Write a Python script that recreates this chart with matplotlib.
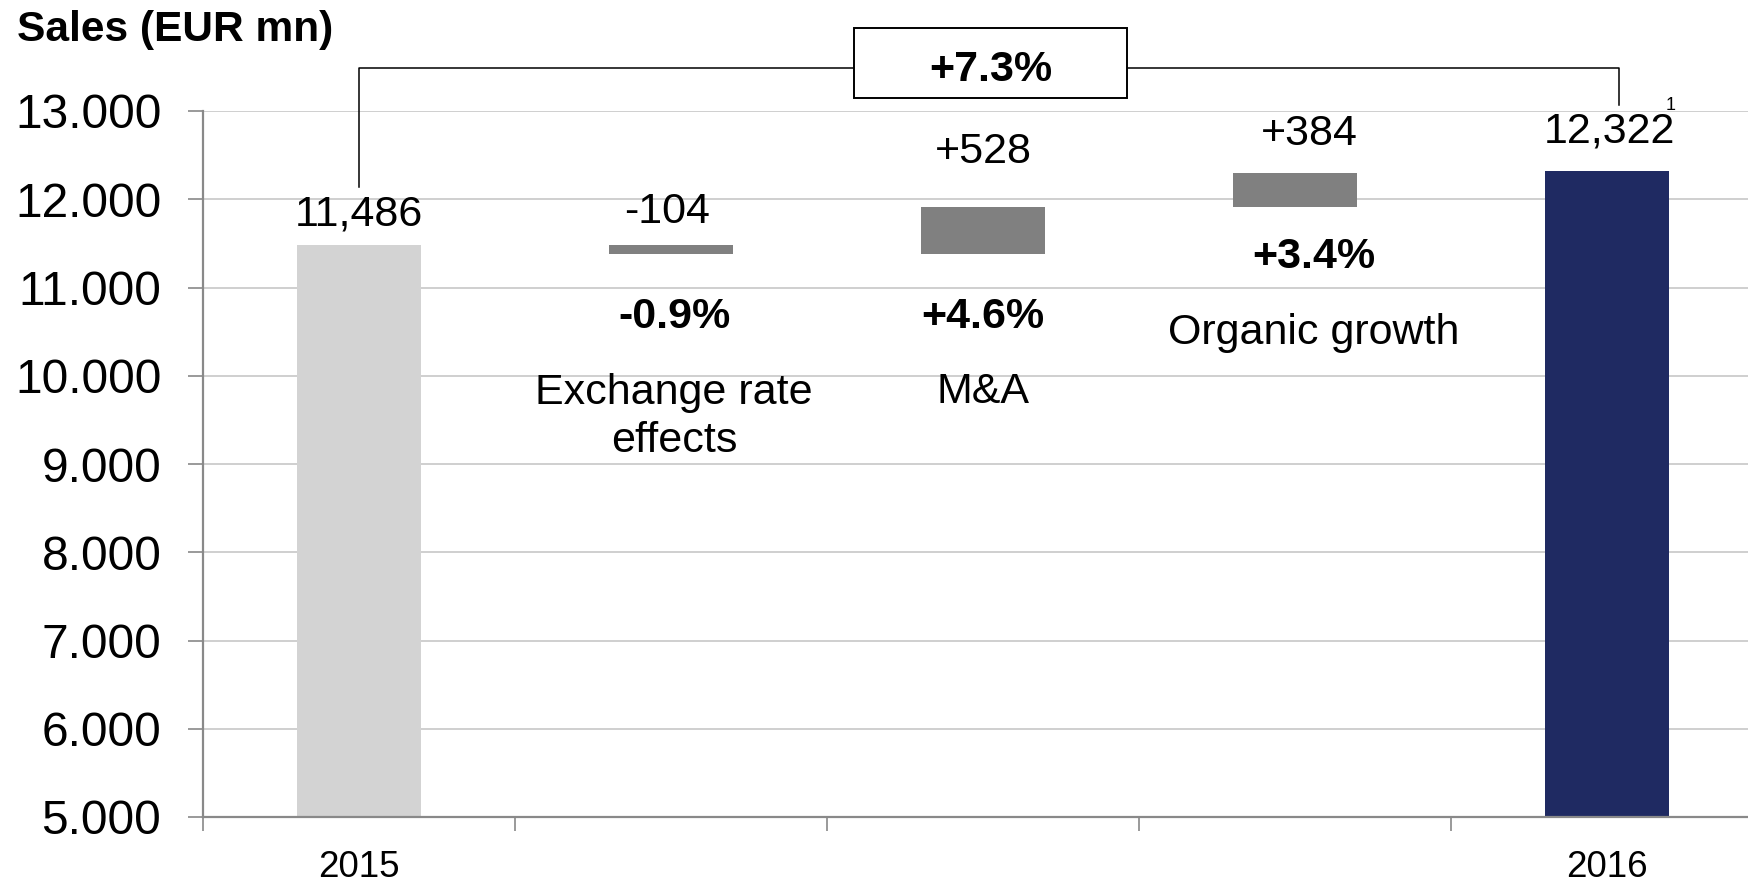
import matplotlib
matplotlib.use("Agg")
import matplotlib.pyplot as plt
from matplotlib.patches import Rectangle

plt.rcParams['font.family'] = ['Liberation Sans', 'DejaVu Sans']

# sales bridge 2015 -> 2016, EUR mn
start_label = "2015"
end_label = "2016"
start_value = 11486
end_value = 12322
step_names = ["Exchange rate\neffects", "M&A", "Organic growth"]
step_values = [-104, 528, 384]
step_pcts = ["-0.9%", "+4.6%", "+3.4%"]
total_pct = "+7.3%"
y_ticks = [5000, 6000, 7000, 8000, 9000, 10000, 11000, 12000, 13000]

light = "#d3d3d3"
mid = "#808080"
navy = "#1f2a62"
fs = 31

fig = plt.figure(figsize=(17.49, 8.86), dpi=100)
ax = fig.add_axes([203 / 1749, 69 / 886, 1560 / 1749, 706 / 886])

n = len(step_values) + 2
width = 0.40

# opening and closing totals
ax.bar(0, start_value - 5000, bottom=5000, width=width, color=light, zorder=2)
ax.bar(n - 1, end_value - 5000, bottom=5000, width=width, color=navy, zorder=2)

# floating steps
level = start_value
tops, bottoms = [], []
for i, v in enumerate(step_values):
    lo, hi = min(level, level + v), max(level, level + v)
    ax.bar(i + 1, hi - lo, bottom=lo, width=width, color=mid, zorder=2)
    tops.append(hi)
    bottoms.append(lo)
    level += v

# value labels above bars
def value_label(x, top, text, dy, dx=0):
    ax.annotate(text, xy=(x, top), xytext=(dx, dy), textcoords="offset points",
                ha="center", va="center", fontsize=fs, annotation_clip=False)

value_label(0, start_value, f"{start_value:,}", 22)
step_dy = [23.5, 40, 28.5]
step_dx = [-3, 0, 10]
for i, v in enumerate(step_values):
    top = start_value if i == 0 else tops[i]
    value_label(i + 1, top, f"{v:+d}", step_dy[i], step_dx[i])
value_label(n - 1, end_value, f"{end_value:,}", 28.5, 2)
ax.annotate("1", xy=(n - 1, end_value), xytext=(46, 47), textcoords="offset points",
            ha="center", va="center", fontsize=13, annotation_clip=False)

# percentage and name of each step
pct_y = [10670, 10670, 11345]
name_y = [9530, 9815, 10490]
name_dx = [0.01, 0.0, 0.06]
for i in range(len(step_values)):
    ax.text(i + 1 + name_dx[i], pct_y[i], step_pcts[i], ha="center", va="center",
            fontsize=fs, fontweight="bold")
    ax.text(i + 1 + name_dx[i], name_y[i], step_names[i], ha="center", va="center",
            fontsize=fs, linespacing=1.27)

# total growth bracket
bracket_y = 13487
ax.plot([0, 0, 1.587], [12139, bracket_y, bracket_y], color="black", lw=1.1,
        clip_on=False, zorder=3)
ax.plot([2.462, 4.04, 4.04], [bracket_y, bracket_y, 13068], color="black", lw=1.1,
        clip_on=False, zorder=3)
ax.add_patch(Rectangle((1.587, 13147), 2.462 - 1.587, 13940 - 13147, facecolor="white",
                       edgecolor="black", lw=1.4, clip_on=False, zorder=3))
ax.text(2.024, 13460, total_pct, ha="center", va="center", fontsize=fs,
        fontweight="bold", zorder=4)

# axes styling
ax.set_xlim(-0.5, n - 0.5)
ax.set_ylim(5000, 13000)
ax.set_yticks(y_ticks)
ax.set_yticklabels([f"{t:,}".replace(",", ".") for t in y_ticks], fontsize=34.5)
ax.tick_params(axis="y", length=11, width=1.2, color="#898989", pad=19)
ax.grid(axis="y", color="#cccccc", lw=1.3, zorder=0)
ax.set_axisbelow(True)

ax.set_xticks([0, n - 1])
ax.set_xticklabels([start_label, end_label], fontsize=26.5)
ax.set_xticks([i - 0.5 for i in range(n + 1)], minor=True)
ax.tick_params(axis="x", which="major", length=0, pad=24)
ax.tick_params(axis="x", which="minor", length=10, width=1.2, color="#898989")

for side in ["top", "right"]:
    ax.spines[side].set_visible(False)
for side in ["left", "bottom"]:
    ax.spines[side].set_color("#898989")
    ax.spines[side].set_linewidth(1.6)

fig.text(17 / 1749, 1 - 30 / 886, "Sales (EUR mn)", ha="left", va="center",
         fontsize=30.6, fontweight="bold")

fig.savefig("out.png", dpi=100)
